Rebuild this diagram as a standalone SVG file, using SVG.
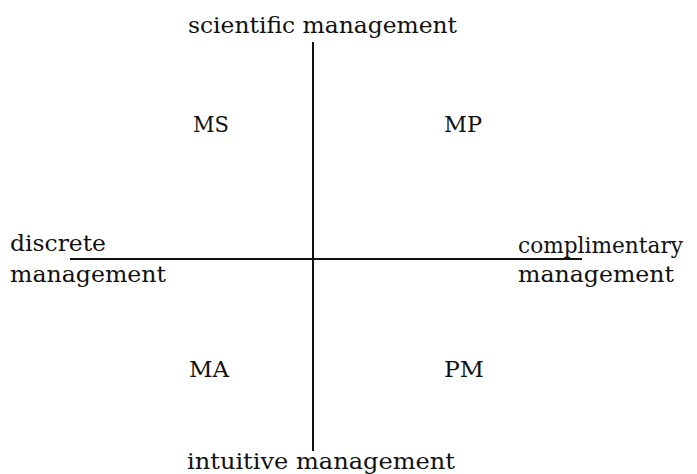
<svg xmlns="http://www.w3.org/2000/svg" width="697" height="474" viewBox="0 0 697 474">
<style>
text{font-family:"DejaVu Serif","Liberation Serif",serif;font-size:23px;fill:#111}
.ax{stroke:#111;stroke-width:2;fill:none}
</style>
<rect width="697" height="474" fill="#fff"/>
<g id="connectors">
<line class="ax" x1="313" y1="42" x2="313" y2="451"/>
<line class="ax" x1="70" y1="259" x2="582" y2="259"/>
</g>
<g id="top"><text x="188" y="33" textLength="269" lengthAdjust="spacingAndGlyphs">scientific management</text></g>
<g id="bottom"><text x="187" y="469" textLength="268" lengthAdjust="spacingAndGlyphs">intuitive management</text></g>
<g id="left"><text x="10" y="251" textLength="96" lengthAdjust="spacingAndGlyphs">discrete</text><text x="10" y="282" textLength="156" lengthAdjust="spacingAndGlyphs">management</text></g>
<g id="right"><text x="518" y="253" textLength="165" lengthAdjust="spacingAndGlyphs">complimentary</text><text x="518" y="282" textLength="156" lengthAdjust="spacingAndGlyphs">management</text></g>
<g id="MS"><text x="193" y="132" textLength="36" lengthAdjust="spacingAndGlyphs">MS</text></g>
<g id="MP"><text x="444" y="132" textLength="38" lengthAdjust="spacingAndGlyphs">MP</text></g>
<g id="MA"><text x="189" y="377" textLength="40" lengthAdjust="spacingAndGlyphs">MA</text></g>
<g id="PM"><text x="444" y="377" textLength="40" lengthAdjust="spacingAndGlyphs">PM</text></g>
</svg>
